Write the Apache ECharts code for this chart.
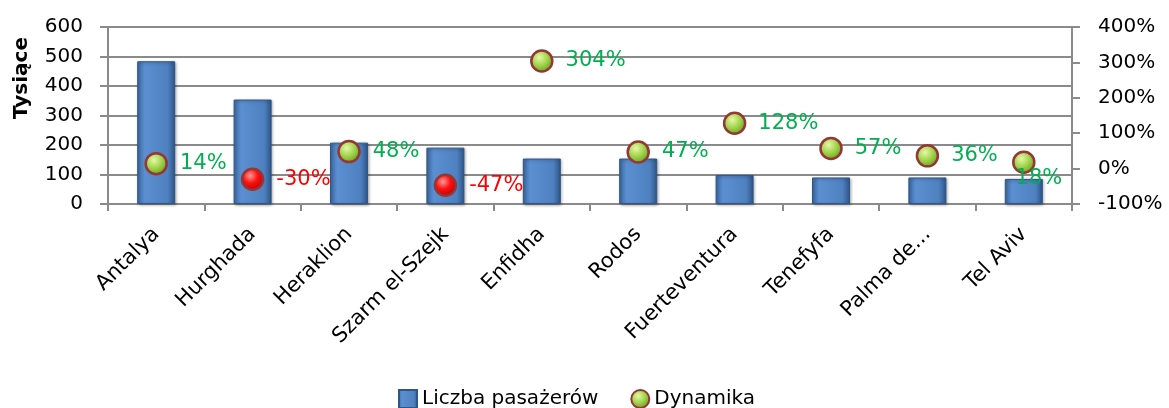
<!DOCTYPE html>
<html>
<head>
<meta charset="utf-8">
<script src="https://cdn.jsdelivr.net/npm/echarts@6/dist/echarts.min.js"></script>
<style>
  html, body { margin: 0; padding: 0; background: #fff; }
  #chart { width: 1169px; height: 408px; }
</style>
</head>
<body>
<div id="chart"></div>
<script>
// dane wykresu
var categories = ["Antalya", "Hurghada", "Heraklion", "Szarm el-Szejk", "Enfidha", "Rodos", "Fuerteventura", "Tenefyfa", "Palma de...", "Tel Aviv"];
var passengers = [484, 354, 208, 191, 154, 154, 98, 90, 90, 85]; // tysiące
var dynamics = [14, -30, 48, -47, 304, 47, 128, 57, 36, 18]; // %
var leftTicks = [0, 600, 100];
var rightTicks = [-100, 400, 100];

var FONT = "DejaVu Sans";
var GRID_COLOR = "#8a8a8a";

window.onload = function () {
  var chart = echarts.init(document.getElementById("chart"));

  var barColor = new echarts.graphic.LinearGradient(0, 0, 1, 0, [
    { offset: 0, color: "#3d6ca6" },
    { offset: 0.2, color: "#5b8fd1" },
    { offset: 0.8, color: "#4f81c0" },
    { offset: 1, color: "#2d5587" },
  ]);
  var greenBall = new echarts.graphic.RadialGradient(0.4, 0.35, 0.7, [
    { offset: 0, color: "#e6f7a8" },
    { offset: 0.5, color: "#9fd34a" },
    { offset: 1, color: "#5f9a1c" },
  ]);
  var redBall = new echarts.graphic.RadialGradient(0.4, 0.35, 0.7, [
    { offset: 0, color: "#ff9a9a" },
    { offset: 0.45, color: "#ff1010" },
    { offset: 1, color: "#b00000" },
  ]);

  //punkty dynamiki - kolor zależny od znaku
  var dynData = dynamics.map(function (v, i) {
    var item = {
      value: v,
      itemStyle: { color: v < 0 ? redBall : greenBall },
      label: { color: v < 0 ? "#ff0000" : "#00b050" },
    };
    if (i === categories.length - 1) {
      item.label.offset = [-32, 16]; // Tel Aviv - etykieta nachodzi na słupek
    }
    return item;
  });

  var option = {
    animation: false,
    textStyle: { fontFamily: FONT },
    graphic: [
      {
        type: "text",
        left: 12,
        top: 37,
        rotation: Math.PI / 2,
        style: {
          text: "Tysiące",
          fontFamily: FONT,
          fontSize: 20,
          fontWeight: "bold",
          fill: "#000",
        },
      },
    ],
    grid: { left: 108, right: 97, top: 27, bottom: 204 },
    legend: {
      left: 393,
      top: 384,
      itemWidth: 18,
      itemHeight: 18,
      itemGap: 32,
      textStyle: { fontFamily: FONT, fontSize: 20, color: "#000" },
      data: [
        { name: "Liczba pasażerów", icon: "rect" },
        { name: "Dynamika", icon: "circle" },
      ],
    },
    xAxis: {
      type: "category",
      data: categories,
      boundaryGap: true,
      axisLine: { lineStyle: { color: GRID_COLOR, width: 2 } },
      axisTick: { show: true, length: 7, lineStyle: { color: GRID_COLOR, width: 2 } },
      axisLabel: {
        interval: 0,
        rotate: 45,
        margin: 27,
        fontFamily: FONT,
        fontSize: 21,
        color: "#000",
      },
    },
    yAxis: [
      {
        type: "value",
        min: leftTicks[0],
        max: leftTicks[1],
        interval: leftTicks[2],
        axisLine: { show: true, lineStyle: { color: GRID_COLOR, width: 2 } },
        axisTick: { show: true, length: 8, lineStyle: { color: GRID_COLOR, width: 2 } },
        splitLine: { show: true, lineStyle: { color: GRID_COLOR, width: 2 } },
        axisLabel: { margin: 25, fontFamily: FONT, fontSize: 20, color: "#000" },
      },
      {
        type: "value",
        min: rightTicks[0],
        max: rightTicks[1],
        interval: rightTicks[2],
        position: "right",
        axisLine: { show: true, lineStyle: { color: GRID_COLOR, width: 2 } },
        axisTick: { show: true, length: 8, lineStyle: { color: GRID_COLOR, width: 2 } },
        splitLine: { show: false },
        axisLabel: {
          margin: 26,
          fontFamily: FONT,
          fontSize: 20,
          color: "#000",
          formatter: "{value}%",
        },
      },
    ],
    series: [
      {
        name: "Liczba pasażerów",
        type: "bar",
        barWidth: 38,
        data: passengers,
        itemStyle: {
          color: barColor,
          borderColor: "#2f5688",
          borderWidth: 1,
          shadowColor: "rgba(0,0,0,0.35)",
          shadowBlur: 3,
          shadowOffsetX: 1,
          shadowOffsetY: 1,
        },
      },
      {
        name: "Dynamika",
        type: "line",
        yAxisIndex: 1,
        data: dynData,
        symbol: "circle",
        symbolSize: 21,
        lineStyle: { width: 0, opacity: 0 },
        itemStyle: { color: greenBall, borderColor: "#953735", borderWidth: 2.5 },
        label: {
          show: true,
          position: "right",
          distance: 12,
          fontFamily: FONT,
          fontSize: 21,
          formatter: "{c}%",
        },
        z: 5,
      },
    ],
  };
  chart.setOption(option);
};
</script>
</body>
</html>
